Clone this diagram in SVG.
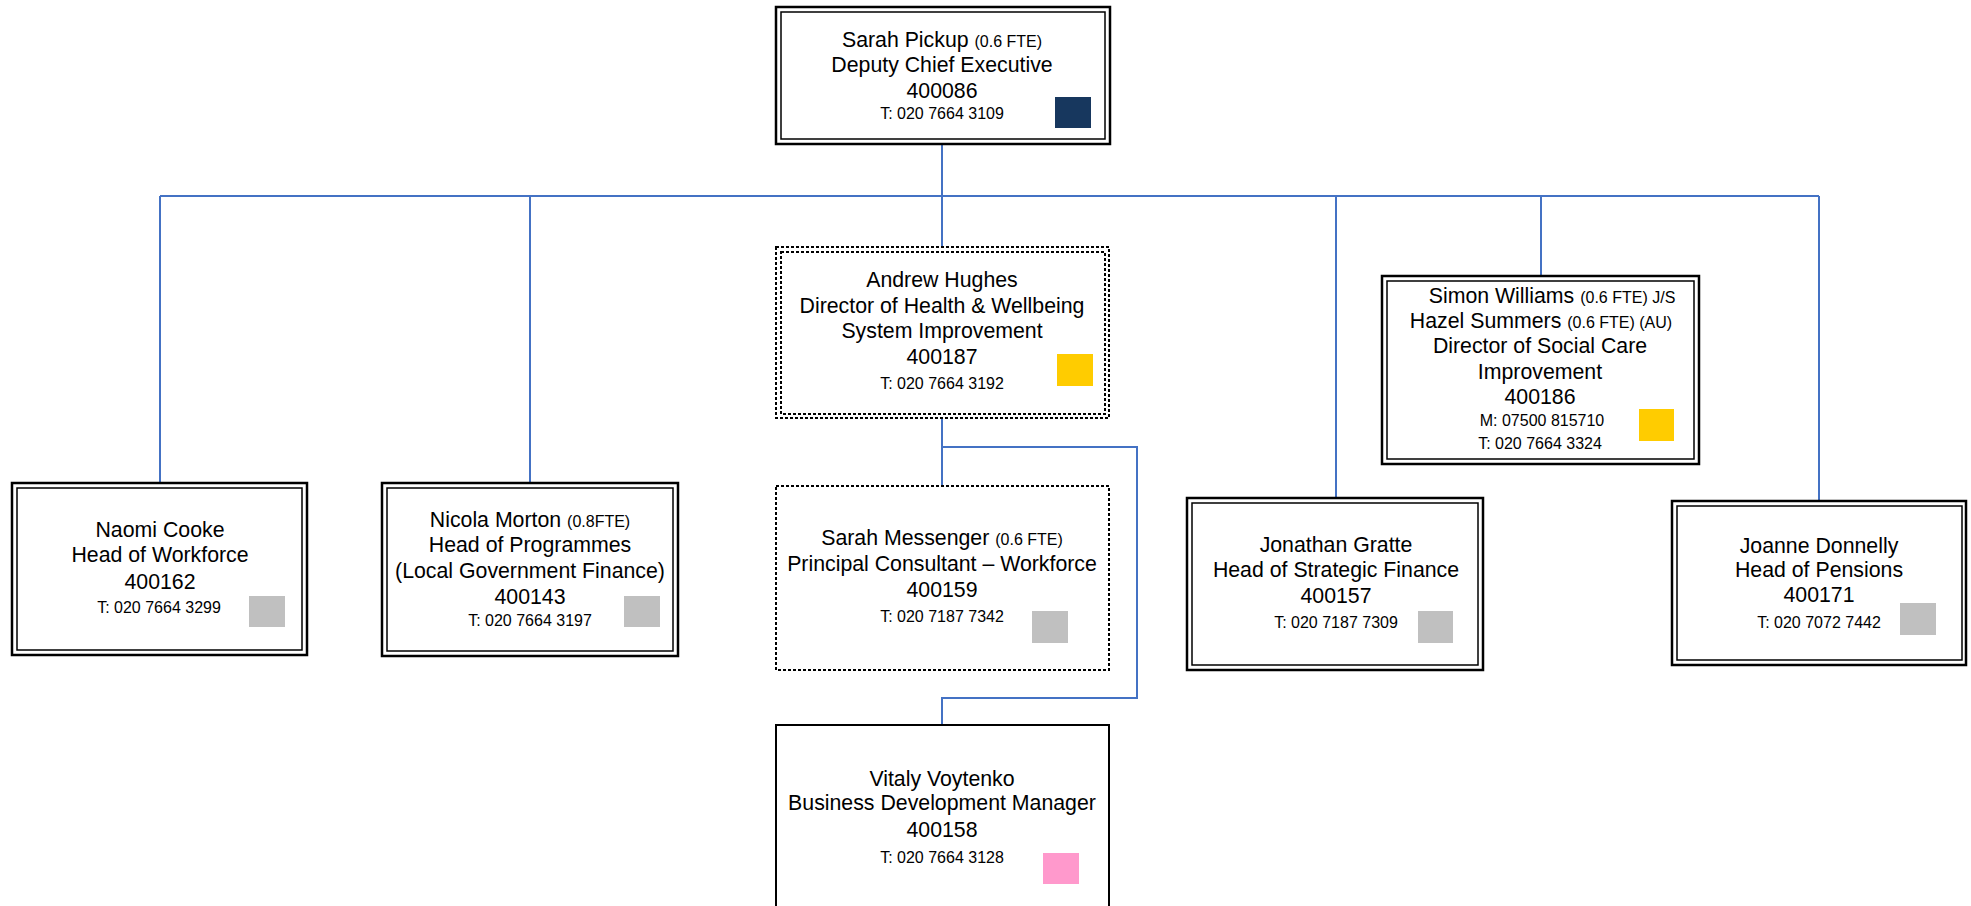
<svg xmlns="http://www.w3.org/2000/svg" width="1971" height="906" viewBox="0 0 1971 906">
<style>
text{font-family:"Liberation Sans",Arial,sans-serif;fill:#000;text-anchor:middle}
.b{font-size:21.3px}
.s{font-size:16px}
.o{fill:#fff;stroke:#000;stroke-width:2.5}
.i{fill:none;stroke:#000;stroke-width:1.5}
.d{fill:#fff;stroke:#000;stroke-width:2;stroke-dasharray:3 2}
.di{fill:none;stroke:#000;stroke-width:2;stroke-dasharray:3 2}
.single{fill:#fff;stroke:#000;stroke-width:2}
.c{fill:none;stroke:#4472C4;stroke-width:2}
.g{fill:#C0C0C0}
.y{fill:#FFCC00}
</style>
<rect width="1971" height="906" fill="#fff"/>
<g id="connectors">
<path class="c" d="M942,144 V196 M160,196 H1819 M160,196 V483 M530,196 V483 M942,196 V247 M1336,196 V498 M1541,196 V276 M1819,196 V501"/>
<path class="c" d="M942,418 V486 M942,447 H1137 V698 H942 V725"/>
</g>
<g id="sarah-pickup">
<rect class="o" x="776" y="7" width="334" height="137"/>
<rect class="i" x="781" y="12" width="324" height="127"/>
<text class="b" x="942" y="47">Sarah Pickup <tspan class="s">(0.6 FTE)</tspan></text>
<text class="b" x="942" y="72">Deputy Chief Executive</text>
<text class="b" x="942" y="98">400086</text>
<text class="s" x="942" y="119">T: 020 7664 3109</text>
<rect x="1055" y="97" width="36" height="31" fill="#17375E"/>
</g>
<g id="andrew-hughes">
<rect class="d" x="776" y="247" width="333" height="171"/>
<rect class="di" x="781" y="252" width="324" height="162"/>
<text class="b" x="942" y="287">Andrew Hughes</text>
<text class="b" x="942" y="313">Director of Health &amp; Wellbeing</text>
<text class="b" x="942" y="338">System Improvement</text>
<text class="b" x="942" y="364">400187</text>
<text class="s" x="942" y="389">T: 020 7664 3192</text>
<rect class="y" x="1057" y="354" width="36" height="32"/>
</g>
<g id="simon-williams">
<rect class="o" x="1382" y="276" width="317" height="188"/>
<rect class="i" x="1387" y="281" width="307" height="178"/>
<text class="b" x="1552" y="303">Simon Williams <tspan class="s">(0.6 FTE) J/S</tspan></text>
<text class="b" x="1541" y="328">Hazel Summers <tspan class="s">(0.6 FTE) (AU)</tspan></text>
<text class="b" x="1540" y="353">Director of Social Care</text>
<text class="b" x="1540" y="379">Improvement</text>
<text class="b" x="1540" y="404">400186</text>
<text class="s" x="1542" y="426">M: 07500 815710</text>
<text class="s" x="1540" y="449">T: 020 7664 3324</text>
<rect class="y" x="1639" y="409" width="35" height="32"/>
</g>
<g id="naomi-cooke">
<rect class="o" x="12" y="483" width="295" height="172"/>
<rect class="i" x="17" y="488" width="285" height="162"/>
<text class="b" x="160" y="537">Naomi Cooke</text>
<text class="b" x="160" y="562">Head of Workforce</text>
<text class="b" x="160" y="589">400162</text>
<text class="s" x="159" y="613">T: 020 7664 3299</text>
<rect class="g" x="249" y="596" width="36" height="31"/>
</g>
<g id="nicola-morton">
<rect class="o" x="382" y="483" width="296" height="173"/>
<rect class="i" x="387" y="488" width="286" height="163"/>
<text class="b" x="530" y="527">Nicola Morton <tspan class="s">(0.8FTE)</tspan></text>
<text class="b" x="530" y="552">Head of Programmes</text>
<text class="b" x="530" y="578">(Local Government Finance)</text>
<text class="b" x="530" y="604">400143</text>
<text class="s" x="530" y="626">T: 020 7664 3197</text>
<rect class="g" x="624" y="596" width="36" height="31"/>
</g>
<g id="sarah-messenger">
<rect class="d" x="776" y="486" width="333" height="184"/>
<text class="b" x="942" y="545">Sarah Messenger <tspan class="s">(0.6 FTE)</tspan></text>
<text class="b" x="942" y="571">Principal Consultant – Workforce</text>
<text class="b" x="942" y="597">400159</text>
<text class="s" x="942" y="622">T: 020 7187 7342</text>
<rect class="g" x="1032" y="611" width="36" height="32"/>
</g>
<g id="jonathan-gratte">
<rect class="o" x="1187" y="498" width="296" height="172"/>
<rect class="i" x="1192" y="503" width="286" height="162"/>
<text class="b" x="1336" y="552">Jonathan Gratte</text>
<text class="b" x="1336" y="577">Head of Strategic Finance</text>
<text class="b" x="1336" y="603">400157</text>
<text class="s" x="1336" y="628">T: 020 7187 7309</text>
<rect class="g" x="1418" y="611" width="35" height="32"/>
</g>
<g id="joanne-donnelly">
<rect class="o" x="1672" y="501" width="294" height="164"/>
<rect class="i" x="1677" y="506" width="285" height="154"/>
<text class="b" x="1819" y="553">Joanne Donnelly</text>
<text class="b" x="1819" y="577">Head of Pensions</text>
<text class="b" x="1819" y="602">400171</text>
<text class="s" x="1819" y="628">T: 020 7072 7442</text>
<rect class="g" x="1900" y="603" width="36" height="32"/>
</g>
<g id="vitaly-voytenko">
<rect class="single" x="776" y="725" width="333" height="200"/>
<text class="b" x="942" y="786">Vitaly Voytenko</text>
<text class="b" x="942" y="810">Business Development Manager</text>
<text class="b" x="942" y="837">400158</text>
<text class="s" x="942" y="863">T: 020 7664 3128</text>
<rect x="1043" y="853" width="36" height="31" fill="#FF99CC"/>
</g>
</svg>
